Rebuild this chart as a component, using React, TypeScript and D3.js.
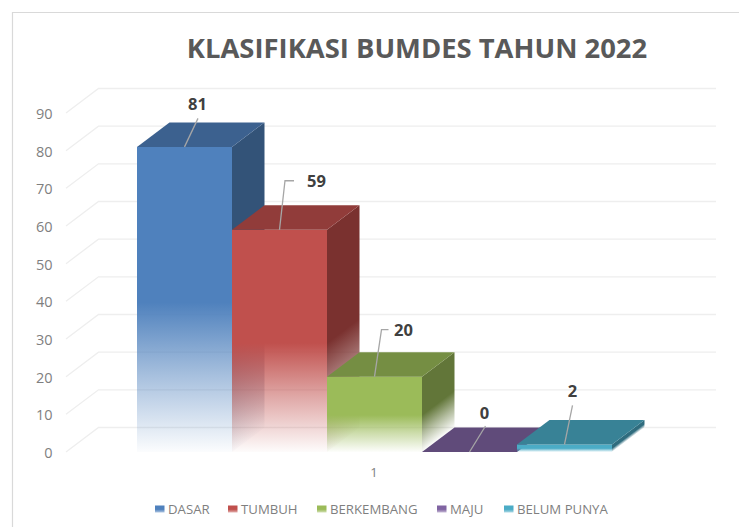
import React from "react";
import * as d3 from "d3";

const title = "KLASIFIKASI BUMDES TAHUN 2022";
const categories = ["DASAR", "TUMBUH", "BERKEMBANG", "MAJU", "BELUM PUNYA"];
const values = [81, 59, 20, 0, 2];
const frontColors = ["#4f81bd", "#c0504d", "#9bbb59", "#8064a2", "#4bacc6"];
const topColors = ["#3c618f", "#913c3a", "#758e43", "#604b7a", "#388296"];
const sideColors = ["#335378", "#7a312f", "#627639", "#503f66", "#2f6c7e"];
const yTicks = [0, 10, 20, 30, 40, 50, 60, 70, 80, 90];
const xCategory = "1";
// leader elbows, as offsets from the bar's top-centre
const leaderBends = [[13.5, -28.5], [5.5, -49], [7, -47], [16, -26], [8, -39]];
const leaderTails = [0, 9, 7, 0, 0];
const labelOffsets = [[13, -37], [37, -43], [29, -41], [15, -33], [8, -47]];
const legendSwatchX = [155, 228, 317, 437, 504];

const W = 739, H = 527;
const depthX = 32.5, depthY = 24.5;
const y = d3.scaleLinear().domain([0, 90]).range([452, 113]);
const x = d3.scaleBand<string>().domain(categories).range([137, 612]).padding(0);
const axisLeft = 66, axisBackRight = 716;
const shear = -depthY / depthX;
const font = "'Open Sans', sans-serif";

const poly = d3.line<[number, number]>().curve(d3.curveLinearClosed);

function Stops({ color, h }: { color: string; h: number }) {
  return (
    <>
      <stop offset="0" stopColor={color} stopOpacity={1} />
      <stop offset="0.51" stopColor={color} stopOpacity={1} />
      <stop offset="0.75" stopColor={color} stopOpacity={0.5} />
      <stop offset="1" stopColor={color} stopOpacity={h > 0 ? 0.02 : 1} />
    </>
  );
}

export default function App() {
  return (
    <svg width={W} height={H} viewBox={`0 0 ${W} ${H}`}
      style={{ position: "absolute", left: 0, top: 0, background: "#fff" }} fontFamily={font}>
      <defs>
        {categories.map((c, i) => {
          const x0 = x(c)!, x1 = x0 + x.bandwidth();
          return (
            <React.Fragment key={c}>
              <linearGradient id={`f${i}`} gradientUnits="userSpaceOnUse" x1={0} x2={0} y1={y(values[i])} y2={y(0)}>
                <Stops color={frontColors[i]} h={values[i]} />
              </linearGradient>
              <linearGradient id={`s${i}`} gradientUnits="userSpaceOnUse" x1={0} x2={0} y1={y(values[i])} y2={y(0)}
                gradientTransform={`matrix(1 ${shear} 0 1 0 ${-shear * x1})`}>
                <Stops color={sideColors[i]} h={values[i]} />
              </linearGradient>
              <linearGradient id={`l${i}`} x1={0} x2={0} y1={0} y2={1}>
                <stop offset="0" stopColor={frontColors[i]} />
                <stop offset="0.55" stopColor={frontColors[i]} />
                <stop offset="1" stopColor={frontColors[i]} stopOpacity={0.45} />
              </linearGradient>
            </React.Fragment>
          );
        })}
      </defs>

      <path d={`M12.5,527V12.5H${W}`} fill="none" stroke="#d9d9d9" strokeWidth={1.2} />

      <text x={417} y={58} textAnchor="middle" fontSize={27.4} fontWeight={700} fill="#595959">{title}</text>

      {yTicks.map((t) => (
        <g key={t}>
          <path d={`M${axisLeft},${y(t)}L${axisLeft + depthX},${y(t) - depthY}H${axisBackRight}`}
            fill="none" stroke="#eeeeee" strokeWidth={1.3} />
          <text x={52.5} y={y(t) + 6} textAnchor="end" fontSize={14.5} fill="#7f7f7f">{t}</text>
        </g>
      ))}

      {categories.map((c, i) => {
        const x0 = x(c)!, x1 = x0 + x.bandwidth();
        const yt = y(values[i]), yb = y(0);
        const top = poly([[x0, yt], [x0 + depthX, yt - depthY], [x1 + depthX, yt - depthY], [x1, yt]])!;
        const side = poly([[x1, yt], [x1 + depthX, yt - depthY], [x1 + depthX, yb - depthY], [x1, yb]])!;
        return (
          <g key={c}>
            {values[i] > 0 && <path d={side} fill={`url(#s${i})`} />}
            {values[i] > 0 && <rect x={x0} y={yt} width={x.bandwidth()} height={yb - yt} fill={`url(#f${i})`} />}
            <path d={top} fill={topColors[i]} />
          </g>
        );
      })}

      {categories.map((c, i) => {
        const cx = x(c)! + x.bandwidth() / 2;
        const yt = y(values[i]);
        const [bx, by] = leaderBends[i];
        return (
          <g key={c}>
            <path d={`M${cx},${yt}L${cx + bx},${yt + by}h${leaderTails[i]}`} fill="none" stroke="#a6a6a6" strokeWidth={1.3} />
            <text x={cx + labelOffsets[i][0]} y={yt + labelOffsets[i][1]} textAnchor="middle"
              fontSize={16.5} fontWeight={700} fill="#404040">{values[i]}</text>
          </g>
        );
      })}

      <text x={374} y={477} textAnchor="middle" fontSize={13} fill="#7f7f7f">{xCategory}</text>

      {categories.map((c, i) => (
        <g key={c}>
          <rect x={legendSwatchX[i]} y={505.5} width={9.5} height={7} fill={`url(#l${i})`} />
          <text x={legendSwatchX[i] + 13} y={514} fontSize={13.2} fill="#7f7f7f">{c}</text>
        </g>
      ))}
    </svg>
  );
}
